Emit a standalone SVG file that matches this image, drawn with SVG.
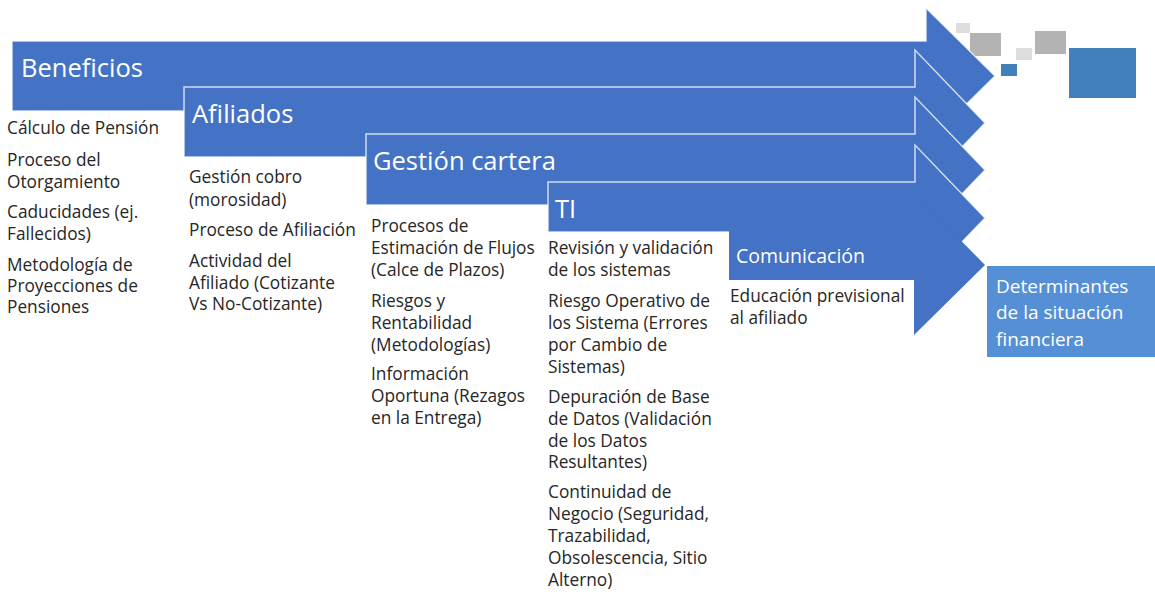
<svg xmlns="http://www.w3.org/2000/svg" width="1155" height="609" viewBox="0 0 1155 609">
  <style>
    .arrow { fill: #4472C4; stroke: #FFFFFF; stroke-opacity: 0.75; stroke-width: 1.5; stroke-linejoin: miter; }
    .arrow-plain { fill: #4472C4; stroke: none; }
    .head { font-family: "Open Sans", "Liberation Sans", sans-serif; font-size: 25.5px; fill: #FFFFFF; }
    .head-sm { font-family: "Open Sans", "Liberation Sans", sans-serif; font-size: 19.5px; fill: #FFFFFF; }
    .body { font-family: "Open Sans", "Liberation Sans", sans-serif; font-size: 17.3px; fill: #262626; }
    .result { font-family: "Open Sans", "Liberation Sans", sans-serif; font-size: 19px; fill: #FFFFFF; }
    .lg { fill: #DEDEDE; }
    .mg { fill: #B3B3B3; }
    .bl { fill: #4180BA; }
  </style>

  <g id="decoration">
    <rect class="lg" x="956" y="23" width="14" height="10"/>
    <rect class="mg" x="970" y="33" width="31" height="23"/>
    <rect class="bl" x="1001" y="64" width="16" height="12"/>
    <rect class="lg" x="1016" y="48" width="16" height="12"/>
    <rect class="mg" x="1035" y="31" width="31" height="23"/>
    <rect class="bl" x="1069" y="48" width="67" height="50"/>
  </g>

  <g id="beneficios">
    <polygon class="arrow" points="12,41 926,41 926,8 995,76 926,144 926,111 12,111"/>
    <text class="head" x="21" y="77">Beneficios</text>
    <text class="body" x="7" y="134">Cálculo de Pensión</text>
    <text class="body" x="7" y="166">Proceso del</text>
    <text class="body" x="7" y="188">Otorgamiento</text>
    <text class="body" x="7" y="218">Caducidades (ej.</text>
    <text class="body" x="7" y="240">Fallecidos)</text>
    <text class="body" x="7" y="271">Metodología de</text>
    <text class="body" x="7" y="292">Proyecciones de</text>
    <text class="body" x="7" y="313">Pensiones</text>
  </g>

  <g id="afiliados">
    <polygon class="arrow" points="184,87 915,87 915,50 985,123 915,196 915,157 184,157"/>
    <text class="head" x="192" y="123">Afiliados</text>
    <text class="body" x="189" y="183">Gestión cobro</text>
    <text class="body" x="189" y="206">(morosidad)</text>
    <text class="body" x="189" y="236">Proceso de Afiliación</text>
    <text class="body" x="189" y="267">Actividad del</text>
    <text class="body" x="189" y="289">Afiliado (Cotizante</text>
    <text class="body" x="189" y="310">Vs No-Cotizante)</text>
  </g>

  <g id="gestion-cartera">
    <polygon class="arrow" points="366,134 915,134 915,97 985,170 915,243 915,205 366,205"/>
    <text class="head" x="373" y="170">Gestión cartera</text>
    <text class="body" x="371" y="232">Procesos de</text>
    <text class="body" x="371" y="254">Estimación de Flujos</text>
    <text class="body" x="371" y="276">(Calce de Plazos)</text>
    <text class="body" x="371" y="307">Riesgos y</text>
    <text class="body" x="371" y="329">Rentabilidad</text>
    <text class="body" x="371" y="351">(Metodologías)</text>
    <text class="body" x="371" y="380">Información</text>
    <text class="body" x="371" y="402">Oportuna (Rezagos</text>
    <text class="body" x="371" y="424">en la Entrega)</text>
  </g>

  <g id="ti">
    <polygon class="arrow" points="548,182 915,182 915,145 985,218 915,291 915,252 729,252 729,232 548,232"/>
    <text class="head" x="555" y="218">TI</text>
    <text class="body" x="548" y="254">Revisión y validación</text>
    <text class="body" x="548" y="276">de los sistemas</text>
    <text class="body" x="548" y="307">Riesgo Operativo de</text>
    <text class="body" x="548" y="329">los Sistema (Errores</text>
    <text class="body" x="548" y="351">por Cambio de</text>
    <text class="body" x="548" y="373">Sistemas)</text>
    <text class="body" x="548" y="403">Depuración de Base</text>
    <text class="body" x="548" y="425">de Datos (Validación</text>
    <text class="body" x="548" y="447">de los Datos</text>
    <text class="body" x="548" y="468">Resultantes)</text>
    <text class="body" x="548" y="498">Continuidad de</text>
    <text class="body" x="548" y="520">Negocio (Seguridad,</text>
    <text class="body" x="548" y="542">Trazabilidad,</text>
    <text class="body" x="548" y="564">Obsolescencia, Sitio</text>
    <text class="body" x="548" y="586">Alterno)</text>
  </g>

  <g id="comunicacion">
    <polygon class="arrow-plain" points="729,230 914,230 914,193 985,265 914,335 914,280 729,280"/>
    <text class="head-sm" x="736" y="263">Comunicación</text>
    <text class="body" x="730" y="302">Educación previsional</text>
    <text class="body" x="730" y="324">al afiliado</text>
  </g>

  <g id="determinantes">
    <rect x="987" y="266" width="168" height="91" fill="#5590D6"/>
    <text class="result" x="996" y="293">Determinantes</text>
    <text class="result" x="996" y="319">de la situación</text>
    <text class="result" x="996" y="346">financiera</text>
  </g>

  <g id="connectors"/>
</svg>
